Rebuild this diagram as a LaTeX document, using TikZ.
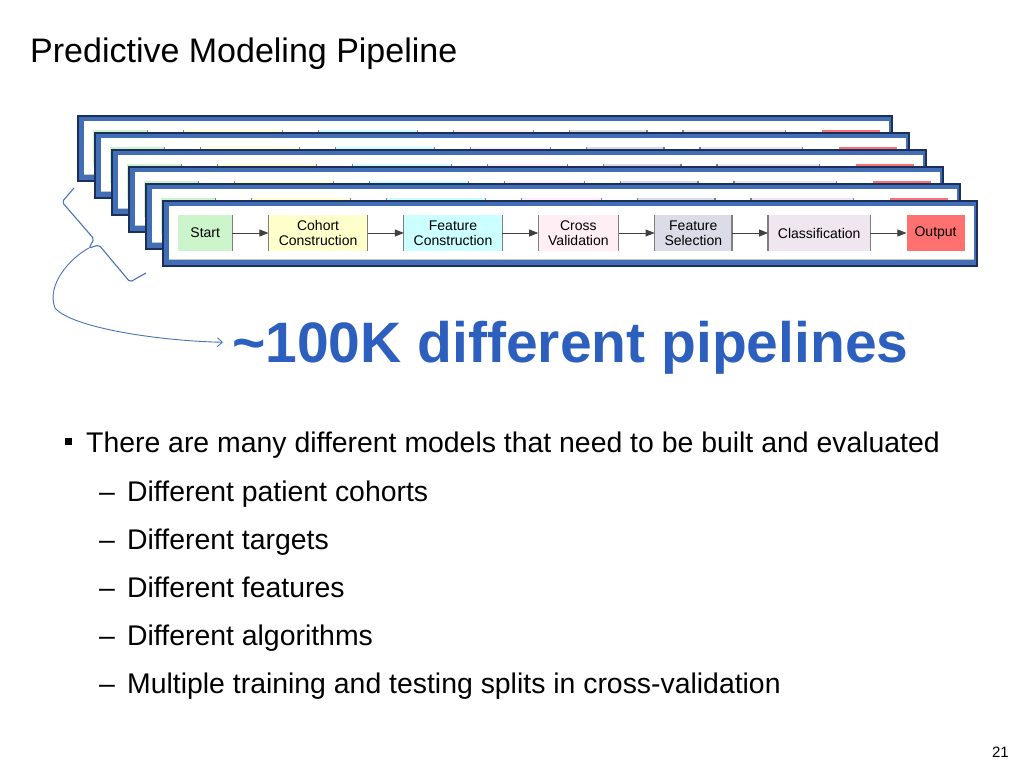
\documentclass[tikz,border=0pt]{standalone}
\usepackage{fontspec}
\setmainfont{Liberation Sans}
\usetikzlibrary{arrows.meta,positioning}
\definecolor{framblue}{HTML}{416EB4}
\definecolor{framink}{HTML}{1C2F5A}
\definecolor{bracblue}{HTML}{4A74B4}
\definecolor{bigblue}{HTML}{2C5FBE}
\definecolor{startgreen}{HTML}{CCF5CC}
\definecolor{cohortyel}{HTML}{FFFFCC}
\definecolor{featcyan}{HTML}{CCFFFF}
\definecolor{crosspink}{HTML}{FFEEF3}
\definecolor{selgray}{HTML}{DCDCE8}
\definecolor{classlav}{HTML}{EFE6F0}
\definecolor{outred}{HTML}{FF7070}
\definecolor{sidegray}{HTML}{7F7F7F}
% only the front copy of the pipeline carries its labels
\newcommand\onfront[1]{\ifnum\k=5 #1\fi}
\tikzset{
  stage/.style ={fill=#1,minimum height=36pt,inner sep=0pt,align=center,
                 font=\fontsize{14}{15}\selectfont},
  side/.style  ={draw=sidegray,line width=1.2pt},
  link/.style  ={-{Triangle[length=9pt,width=7pt]},draw=black!75,line width=0.8pt},
  window/.style={draw=framink,line width=1.2pt,fill=framblue},
  gather/.style={draw=bracblue,line width=1.1pt,rounded corners=2pt},
  pointer/.style={-{Straight Barb[length=5pt,width=9pt]},draw=bracblue,line width=0.9pt},
  lead/.style  ={anchor=base west,inner sep=0pt,font=\fontsize{28.4}{30}\selectfont},
  marker/.style={fill=black,minimum size=7pt,inner sep=0pt}
}
\begin{document}
\begin{tikzpicture}[x=1pt,y=-1pt,node distance=36pt]
  \useasboundingbox[fill=white] (0,0) rectangle (1024,768);
  \node[anchor=base west,inner sep=0pt,font=\fontsize{34}{36}\selectfont] (title) at (30,63)
    {Predictive Modeling Pipeline};
  % stacked copies of the pipeline, back to front
  \foreach \k in {0,...,5}{
    \begin{scope}[shift={(78+17*\k,116+17*\k)}]
      \draw[window] (0,0) rectangle (814,65);
      \fill[white] (6,5) rectangle (811,59);
      \draw[gray!45,line width=0.8pt] (6,58) -- (811,58);
      \node[stage=startgreen,minimum width=54pt,anchor=west] (start\k) at (15,32) {\onfront{Start}};
      \node[stage=cohortyel,minimum width=99pt,right=of start\k] (cohort\k) {\onfront{Cohort\\Construction}};
      \node[stage=featcyan,minimum width=98pt,right=of cohort\k] (featcon\k) {\onfront{Feature\\Construction}};
      \node[stage=crosspink,minimum width=80pt,right=of featcon\k] (crossval\k) {\onfront{Cross\\Validation}};
      \node[stage=selgray,minimum width=77pt,right=of crossval\k] (featsel\k) {\onfront{Feature\\Selection}};
      \node[stage=classlav,minimum width=102pt,right=of featsel\k] (classif\k) {\onfront{Classification}};
      \node[stage=outred,minimum width=58pt,right=of classif\k] (output\k) {\onfront{Output}};
      \draw[side] (start\k.north east) -- (start\k.south east);
      \foreach \n in {cohort,featcon,crossval,featsel,classif}
        \draw[side] (\n\k.north west) -- (\n\k.south west)
                    (\n\k.north east) -- (\n\k.south east);
      \foreach \a/\b in {start/cohort,cohort/featcon,featcon/crossval,crossval/featsel,
                         featsel/classif,classif/output}
        \draw[link] (\a\k) -- (\b\k);
    \end{scope}
  }
  % brace gathering the stack
  \draw[gather] (74,188) -- (62,202) -- (94,239) -- (89,248) -- (99,245) -- (130,282) -- (146,273);
  \coordinate (tip) at (89,248);
  \node[anchor=base west,inner sep=0pt,text=bigblue,
        font=\fontsize{57}{60}\selectfont\bfseries] (big) at (232,362)
    {\textasciitilde100K different pipelines};
  \draw[pointer] (tip) .. controls (70,258) and (46,285) .. (55,308)
                 .. controls (72,328) and (160,341) .. ([shift={(-9pt,5pt)}]big.west);
  % bullets
  \node[marker] (dot) at (68.5,441) {};
  \node[lead] (item0) at (86,452) {There are many different models that need to be built and evaluated};
  \node[lead] (item1) at (99,501) {\makebox[28pt][l]{–}Different patient cohorts};
  \node[lead] (item2) at (99,549) {\makebox[28pt][l]{–}Different targets};
  \node[lead] (item3) at (99,597) {\makebox[28pt][l]{–}Different features};
  \node[lead] (item4) at (99,645) {\makebox[28pt][l]{–}Different algorithms};
  \node[lead] (item5) at (99,693) {\makebox[28pt][l]{–}Multiple training and testing splits in cross-validation};
  \node[anchor=base east,inner sep=0pt,font=\fontsize{15}{16}\selectfont] (page) at (1009,757) {21};
\end{tikzpicture}
\end{document}
